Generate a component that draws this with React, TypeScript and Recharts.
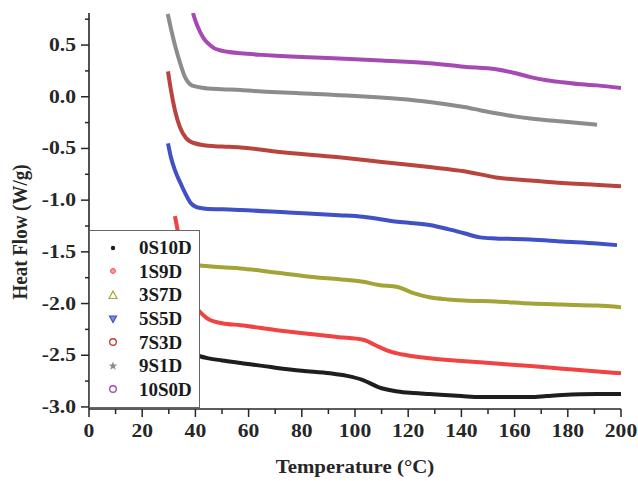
import { LineChart, Line, XAxis, YAxis, Legend } from 'recharts';

const FONT = "'Liberation Serif', 'Times New Roman', serif";
const INK = '#262626';

const seriesNames = ['0S10D', '1S9D', '3S7D', '5S5D', '7S3D', '9S1D', '10S0D'];
const seriesColors = ['#1e1e1e', '#f04343', '#a3a336', '#3f51c4', '#b9443e', '#8c8c8c', '#a64ab3'];

// temperature (°C) / heat flow (W/g)
const t0S10D = [38, 41.7, 45, 50, 57, 70, 80, 90.6, 97, 103, 109, 116, 122, 128, 140, 147, 160, 166, 172, 178, 191, 200];
const v0S10D = [-2.47, -2.51, -2.53, -2.55, -2.575, -2.62, -2.65, -2.675, -2.7, -2.74, -2.81, -2.85, -2.865, -2.875, -2.895, -2.905, -2.905, -2.905, -2.895, -2.885, -2.875, -2.875];

const t1S9D = [32.3, 33.1, 34, 35, 36.5, 38.5, 40, 41.7, 45.5, 50, 57, 70, 85, 94, 103, 109, 114, 119.5, 128, 140, 153, 166, 178, 190, 200];
const v1S9D = [-1.155, -1.26, -1.4, -1.55, -1.75, -1.95, -2.03, -2.08, -2.16, -2.19, -2.21, -2.255, -2.3, -2.325, -2.35, -2.42, -2.47, -2.5, -2.53, -2.555, -2.58, -2.605, -2.63, -2.655, -2.675];

const t3S7D = [39, 41.4, 45, 50, 57, 70, 85, 94, 103, 109, 116, 122, 128, 135, 141, 153, 166, 178, 191, 200];
const v3S7D = [-1.61, -1.63, -1.64, -1.65, -1.66, -1.7, -1.745, -1.765, -1.79, -1.82, -1.84, -1.9, -1.94, -1.96, -1.97, -1.98, -2.0, -2.01, -2.02, -2.035];

const t5S5D = [29.7, 30.8, 32.3, 34.2, 36.1, 38, 40.2, 42.5, 44.7, 50, 57, 75, 94, 103, 116, 128, 135, 141, 147, 153, 166, 178, 191, 198.5];
const v5S5D = [-0.45, -0.585, -0.71, -0.825, -0.93, -1.02, -1.065, -1.078, -1.085, -1.088, -1.095, -1.12, -1.145, -1.16, -1.21, -1.24, -1.28, -1.32, -1.36, -1.37, -1.38, -1.4, -1.42, -1.435];

const t7S3D = [29.7, 30.8, 32.3, 34.2, 36.5, 38.2, 39.8, 42, 44.7, 50, 57, 70, 94, 110, 128, 141, 153, 166, 178, 190, 200];
const v7S3D = [0.245, 0.065, -0.13, -0.295, -0.4, -0.435, -0.45, -0.465, -0.475, -0.482, -0.49, -0.53, -0.585, -0.63, -0.68, -0.72, -0.78, -0.81, -0.835, -0.85, -0.865];

const t9S1D = [29.6, 30.8, 32.3, 34.2, 36.1, 37.3, 38.3, 40, 42, 44.7, 50, 57, 65, 79, 94, 105, 116, 128, 141, 147, 153, 160, 166, 178, 191];
const v9S1D = [0.8, 0.66, 0.5, 0.33, 0.19, 0.14, 0.115, 0.1, 0.09, 0.08, 0.073, 0.065, 0.05, 0.035, 0.015, 0.0, -0.02, -0.05, -0.1, -0.13, -0.16, -0.19, -0.21, -0.24, -0.27];

const t10S0D = [39.1, 40, 41, 42, 43, 44.2, 45.5, 47, 49.2, 52, 57, 65, 72, 80, 94, 110, 128, 141, 153, 160, 166, 172, 178, 185, 191, 200];
const v10S0D = [0.81, 0.735, 0.67, 0.615, 0.57, 0.53, 0.5, 0.47, 0.45, 0.435, 0.42, 0.405, 0.395, 0.385, 0.37, 0.35, 0.325, 0.29, 0.265, 0.23, 0.19, 0.16, 0.14, 0.12, 0.11, 0.085];

const xTicks = [0, 10, 20, 30, 40, 50, 60, 70, 80, 90, 100, 110, 120, 130, 140, 150, 160, 170, 180, 190, 200];
const yTicks = [-3, -2.75, -2.5, -2.25, -2, -1.75, -1.5, -1.25, -1, -0.75, -0.5, -0.25, 0, 0.25, 0.5, 0.75];

const toPoints = (t: number[], v: number[]) => t.map((x, i) => ({ t: x, v: v[i] }));

const series = [
  toPoints(t0S10D, v0S10D),
  toPoints(t1S9D, v1S9D),
  toPoints(t3S7D, v3S7D),
  toPoints(t5S5D, v5S5D),
  toPoints(t7S3D, v7S3D),
  toPoints(t9S1D, v9S1D),
  toPoints(t10S0D, v10S0D),
];

const XTick = (props: any) => {
  const { x, y, payload } = props;
  const major = payload.value % 20 === 0;
  return (
    <g>
      <line x1={x} x2={x} y1={y} y2={y + (major ? 8 : 5)} stroke={INK} strokeWidth={1.5} />
      {major && (
        <text transform={`translate(${x},${y + 28}) scale(1.2,1)`} textAnchor="middle"
          fontFamily={FONT} fontWeight={700} fontSize={18} fill={INK}>
          {payload.value}
        </text>
      )}
    </g>
  );
};

const YTick = (props: any) => {
  const { x, y, payload } = props;
  const major = Math.abs((payload.value * 2) % 1) < 1e-6;
  return (
    <g>
      <line x1={x} x2={x - (major ? 8 : 4)} y1={y} y2={y} stroke={INK} strokeWidth={1.5} />
      {major && (
        <text transform={`translate(${x - 13},${y + 6}) scale(1.2,1)`} textAnchor="end"
          fontFamily={FONT} fontWeight={700} fontSize={18} fill={INK}>
          {payload.value.toFixed(1)}
        </text>
      )}
    </g>
  );
};

const XTitle = () => (
  <text transform="translate(355,473) scale(1.1,1)" textAnchor="middle"
    fontFamily={FONT} fontWeight={700} fontSize={19} fill={INK}>
    Temperature (°C)
  </text>
);

const YTitle = () => (
  <text transform="translate(27,232) scale(1.1,1) rotate(-90)" textAnchor="middle"
    fontFamily={FONT} fontWeight={700} fontSize={19} fill={INK}>
    Heat Flow (W/g)
  </text>
);

function Marker({ index, color }: { index: number; color: string }) {
  const c = 6;
  let shape;
  if (index === 0) shape = <circle cx={c} cy={c} r={2.2} fill={color} />;
  else if (index === 1) shape = <circle cx={c} cy={c} r={2.4} fill="#f7a0a0" stroke={color} strokeWidth={1} />;
  else if (index === 2) shape = <polygon points="6,2 10,9.5 2,9.5" fill="none" stroke={color} strokeWidth={1.2} />;
  else if (index === 3) shape = <polygon points="2.5,3 9.5,3 6,9.5" fill="#7f8ce0" stroke={color} strokeWidth={1.2} />;
  else if (index === 4 || index === 6) shape = <circle cx={c} cy={c} r={3.3} fill="none" stroke={color} strokeWidth={1.4} />;
  else shape = (
    <polygon points="6,1.5 7.1,4.6 10.3,4.6 7.7,6.6 8.7,9.8 6,7.9 3.3,9.8 4.3,6.6 1.7,4.6 4.9,4.6" fill={color} />
  );
  return <svg width={12} height={12} style={{ display: 'block' }}>{shape}</svg>;
}

const renderLegend = () => (
  <div style={{ paddingTop: 5 }}>
    {seriesNames.map((name, idx) => (
      <div key={name} style={{ height: 23.6, display: 'flex', alignItems: 'center' }}>
        <div style={{ width: 49, paddingLeft: 17, boxSizing: 'border-box' }}>
          <Marker index={idx} color={seriesColors[idx]} />
        </div>
        <span style={{ fontFamily: FONT, fontWeight: 700, fontSize: 19, color: '#1a1a1a', lineHeight: '23px' }}>
          {name}
        </span>
      </div>
    ))}
  </div>
);

export default function App() {
  return (
    <div style={{ position: 'absolute', left: 0, top: 0, width: 638, height: 481, background: '#fff' }}>
      <LineChart width={638} height={481} margin={{ top: 13, right: 17, bottom: 0, left: 0 }}>
        <XAxis dataKey="t" type="number" domain={[0, 200]} ticks={xTicks} interval={0}
          height={72} tickSize={0} tickMargin={0} tickLine={false} tick={<XTick />}
          axisLine={{ stroke: INK, strokeWidth: 1.6 }} allowDataOverflow label={<XTitle />} />
        <XAxis xAxisId="top" orientation="top" type="number" domain={[0, 200]} height={0}
          tick={false} tickLine={false} axisLine={{ stroke: INK, strokeWidth: 1.6 }} />
        <YAxis type="number" domain={[-3.02, 0.81]} ticks={yTicks} interval={0} width={89}
          tickSize={0} tickMargin={0} tickLine={false} tick={<YTick />}
          axisLine={{ stroke: INK, strokeWidth: 1.6 }} allowDataOverflow label={<YTitle />} />
        <YAxis yAxisId="right" orientation="right" type="number" domain={[-3.02, 0.81]} width={0}
          tick={false} tickLine={false} axisLine={{ stroke: INK, strokeWidth: 1.6 }} />
        <Legend layout="vertical" align="center" verticalAlign="middle" content={renderLegend}
          wrapperStyle={{ left: 89, top: 230, width: 111, height: 178, background: '#fff',
            border: '1px solid #666', boxSizing: 'border-box' }} />
        {series.map((data, i) => (
          <Line key={seriesNames[i]} data={data} dataKey="v" name={seriesNames[i]} type="monotone"
            stroke={seriesColors[i]} strokeWidth={4} dot={false} activeDot={false}
            isAnimationActive={false} />
        ))}
      </LineChart>
    </div>
  );
}
